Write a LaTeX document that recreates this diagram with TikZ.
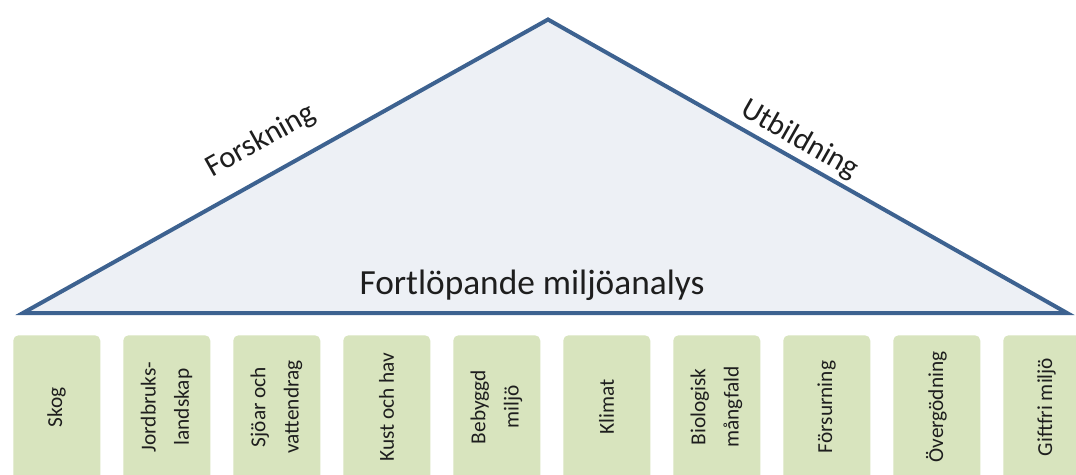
\documentclass[tikz,border=0pt]{standalone}
\usepackage{fontspec}
\setmainfont{Carlito}
\definecolor{tribord}{HTML}{3D6290}
\definecolor{trifill}{HTML}{EDF0F5}
\definecolor{boxfill}{HTML}{D8E4BE}
\definecolor{txt}{HTML}{1E1E1E}
\tikzset{
  area/.style={fill=boxfill, draw=none, rounded corners=4pt, minimum width=65.25pt, minimum height=112.5pt, inner sep=0pt, anchor=north west},
  boxtext/.style={text=txt, font=\fontsize{16}{25}\selectfont, rotate=90, align=center, inner sep=0pt},
  sidetext/.style={text=txt, font=\fontsize{23}{26}\selectfont, inner sep=0pt},
}
\begin{document}
\begin{tikzpicture}[x=0.75pt,y=-0.75pt]
\useasboundingbox (0,0) rectangle (1076,475);
\fill[white] (0,0) rectangle (1076,475);
\begin{scope}
\clip (0,0) rectangle (1076,475);
\coordinate (L) at (23,313);
\coordinate (A) at (548,19.5);
\coordinate (R) at (1067,313);
\draw[tribord, fill=trifill, line width=3pt, line join=miter] (L) -- (A) -- (R) -- cycle;
\node[sidetext, rotate=29.3] (fo) at (261,141) {Forskning};
\node[sidetext, rotate=-29.6] (ut) at (800,140) {Utbildning};
\node[text=txt, font=\fontsize{26.5}{28}\selectfont, inner sep=0pt, anchor=base] (fm) at (532,294) {Fortlöpande miljöanalys};
\foreach \i/\t in {0/Skog,1/{Jordbruks-\\landskap},2/{Sjöar och\\vattendrag},3/{Kust och hav},4/{Bebyggd\\miljö},5/Klimat,6/{Biologisk\\mångfald},7/Försurning,8/Övergödning,9/{Giftfri miljö}}{
  \node[area] (b\i) at ({13+110*\i},335) {};
  \node[boxtext] (t\i) at ({56.5+110*\i},407) {\t};
}
\end{scope}
\end{tikzpicture}
\end{document}
